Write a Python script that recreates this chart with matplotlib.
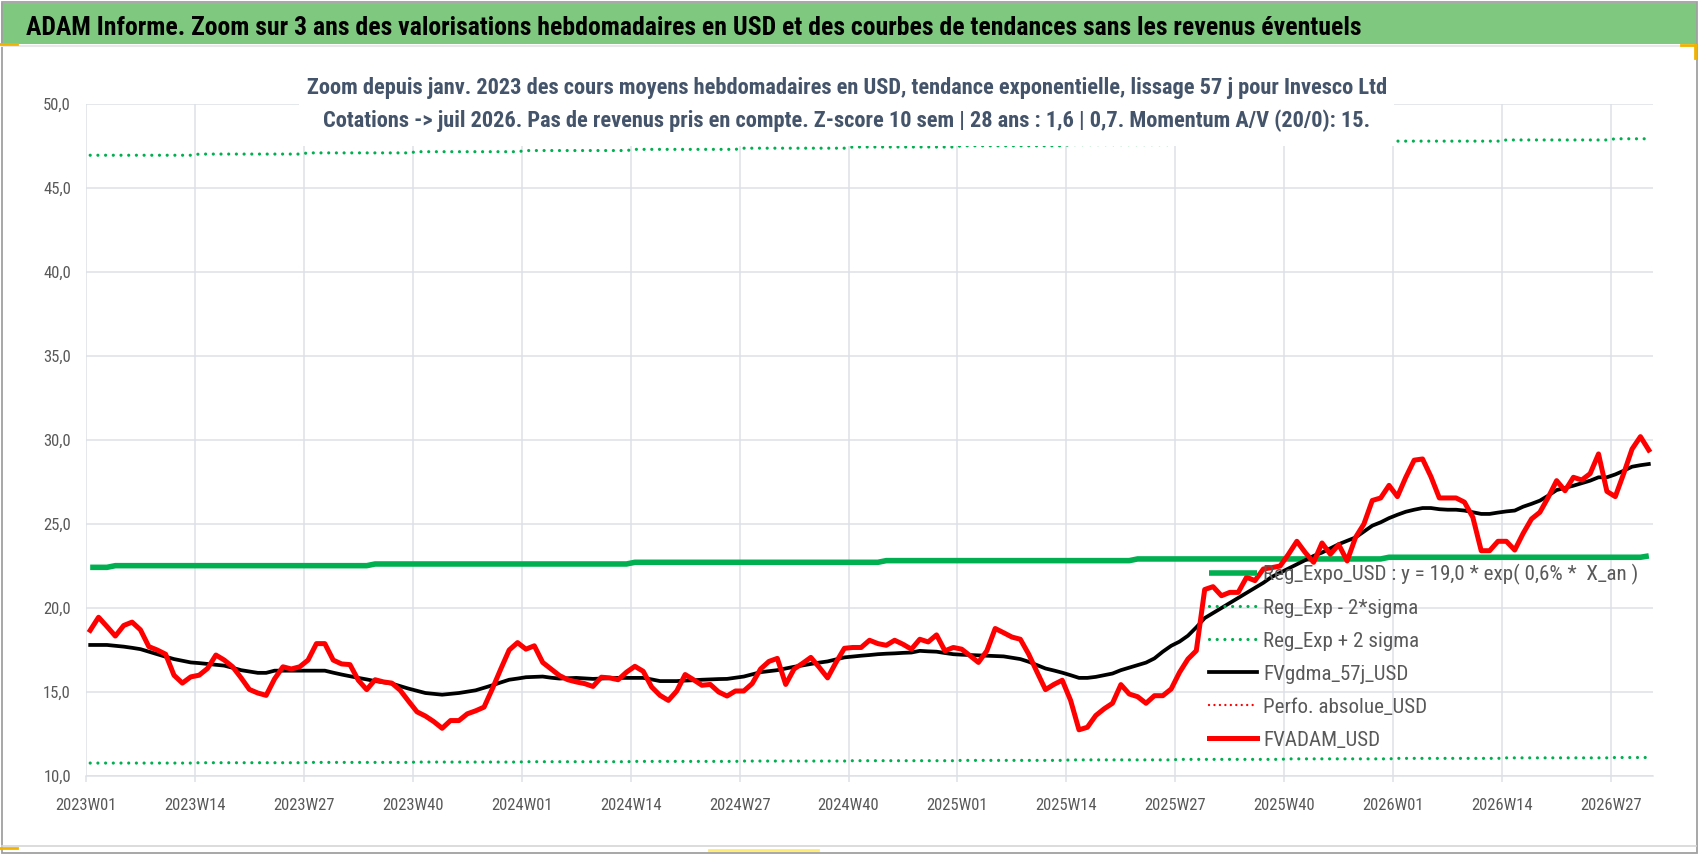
import numpy as np
import matplotlib
matplotlib.use("Agg")
import matplotlib.pyplot as plt
from matplotlib import font_manager as fm
from matplotlib.patches import Rectangle
from matplotlib.lines import Line2D

# ---------------- data ----------------
tick_labels = ["2023W01", "2023W14", "2023W27", "2023W40", "2024W01", "2024W14",
               "2024W27", "2024W40", "2025W01", "2025W14", "2025W27", "2025W40",
               "2026W01", "2026W14", "2026W27"]
weeks_per_tick = 13

fvadam_usd = [
    18.67, 19.45, 18.9, 18.33, 18.96, 19.16, 18.7, 17.7, 17.5, 17.25,
    16.0, 15.53, 15.9, 16.0, 16.4, 17.2, 16.9, 16.5, 15.85, 15.15,
    14.94, 14.8, 15.78, 16.5, 16.37, 16.5, 16.9, 17.88, 17.88, 16.9,
    16.67, 16.63, 15.7, 15.14, 15.73, 15.6, 15.53, 15.1, 14.45, 13.82,
    13.57, 13.24, 12.84, 13.3, 13.3, 13.7, 13.88, 14.1, 15.2, 16.37,
    17.5, 17.94, 17.55, 17.75, 16.76, 16.37, 15.98, 15.73, 15.6, 15.5,
    15.33, 15.88, 15.84, 15.73, 16.18, 16.53, 16.23, 15.3, 14.8, 14.5,
    15.06, 16.04, 15.73, 15.4, 15.45, 15.0, 14.76, 15.06, 15.06, 15.5,
    16.37, 16.82, 17.0, 15.45, 16.37, 16.7, 17.06, 16.47, 15.84, 16.76,
    17.6, 17.65, 17.65, 18.08, 17.88, 17.78, 18.08, 17.84, 17.55, 18.14,
    17.98, 18.4, 17.45, 17.65, 17.55, 17.16, 16.76, 17.45, 18.78, 18.53,
    18.27, 18.14, 17.25, 16.18, 15.14, 15.45, 15.7, 14.5, 12.75, 12.9,
    13.6, 14.0, 14.33, 15.44, 14.88, 14.72, 14.33, 14.78, 14.78, 15.18,
    16.17, 16.96, 17.46, 21.1, 21.27, 20.73, 20.93, 20.93, 21.83, 21.63,
    22.32, 22.4, 22.5, 23.2, 23.97, 23.3, 22.72, 23.87, 23.2, 23.77,
    22.8, 24.2, 25.0, 26.4, 26.55, 27.3, 26.63, 27.78, 28.8, 28.87,
    27.82, 26.55, 26.55, 26.55, 26.3, 25.4, 23.41, 23.41, 23.97, 23.97,
    23.45, 24.44, 25.3, 25.7, 26.59, 27.58, 26.98, 27.78, 27.62, 28.0,
    29.17, 26.94, 26.63, 28.0, 29.46, 30.2, 29.4]

fvgdma_57j_usd = [
    17.8, 17.8, 17.8, 17.75, 17.7, 17.63, 17.55, 17.4, 17.25, 17.1,
    16.96, 16.86, 16.76, 16.72, 16.67, 16.62, 16.57, 16.44, 16.3, 16.22,
    16.14, 16.14, 16.27, 16.27, 16.27, 16.27, 16.27, 16.27, 16.27, 16.15,
    16.04, 15.94, 15.84, 15.75, 15.65, 15.58, 15.5, 15.35, 15.2, 15.07,
    14.94, 14.89, 14.84, 14.89, 14.94, 15.02, 15.1, 15.25, 15.4, 15.57,
    15.73, 15.8, 15.88, 15.9, 15.92, 15.85, 15.8, 15.82, 15.84, 15.81,
    15.78, 15.8, 15.82, 15.84, 15.84, 15.84, 15.84, 15.75, 15.65, 15.65,
    15.65, 15.68, 15.7, 15.73, 15.75, 15.77, 15.78, 15.85, 15.92, 16.05,
    16.18, 16.24, 16.3, 16.4, 16.5, 16.58, 16.67, 16.75, 16.82, 16.94,
    17.06, 17.11, 17.16, 17.2, 17.25, 17.28, 17.3, 17.33, 17.35, 17.45,
    17.42, 17.4, 17.32, 17.25, 17.22, 17.2, 17.18, 17.16, 17.14, 17.12,
    17.04, 16.96, 16.8, 16.6, 16.4, 16.28, 16.15, 16.0, 15.84, 15.84,
    15.9, 16.0, 16.1, 16.3, 16.45, 16.6, 16.75, 17.0, 17.4, 17.75,
    18.0, 18.35, 18.85, 19.4, 19.7, 20.0, 20.3, 20.6, 20.9, 21.2,
    21.5, 21.85, 22.1, 22.35, 22.6, 22.85, 23.1, 23.3, 23.55, 23.8,
    24.0, 24.2, 24.55, 24.9, 25.1, 25.35, 25.55, 25.73, 25.85, 25.95,
    25.95, 25.88, 25.85, 25.85, 25.8, 25.7, 25.6, 25.6, 25.68, 25.75,
    25.8, 26.03, 26.2, 26.39, 26.69, 27.02, 27.15, 27.28, 27.43, 27.58,
    27.78, 27.78, 27.95, 28.17, 28.41, 28.5, 28.57]

# Regression curves, as plotted (stepped by the original renderer)
reg_expo_levels = [22.42, 22.52, 22.62, 22.72, 22.82, 22.92, 23.02, 23.1]
reg_expo_lengths = [3, 31, 31, 30, 30, 30, 31, 1]
reg_upper_levels = [46.95, 47.02, 47.09, 47.16, 47.23, 47.3, 47.37, 47.44,
                    47.51, 47.58, 47.65, 47.72, 47.79, 47.86, 47.93]
reg_lower_levels = [10.77, 10.79, 10.81, 10.83, 10.85, 10.87, 10.89, 10.91,
                    10.93, 10.96, 10.99, 11.02, 11.05, 11.08, 11.1]
reg_band_lengths = [13] * 14 + [5]
perfo_absolue_usd = []  # shown only in the legend

y_ticks = [10, 15, 20, 25, 30, 35, 40, 45, 50]

title = ("ADAM Informe. Zoom sur 3 ans des valorisations hebdomadaires en USD et des "
         "courbes de tendances sans les revenus éventuels")
sub1 = ("Zoom depuis janv. 2023 des cours moyens hebdomadaires en USD, tendance "
        "exponentielle, lissage 57 j pour Invesco Ltd")
sub2 = ("Cotations -> juil 2026. Pas de revenus pris en compte. Z-score 10 sem | 28 ans "
        ": 1,6 | 0,7. Momentum A/V (20/0): 15.")
labels = ["Reg_Expo_USD : y = 19,0 * exp( 0,6% *  X_an )", "Reg_Exp - 2*sigma",
          "Reg_Exp + 2 sigma", "FVgdma_57j_USD", "Perfo. absolue_USD", "FVADAM_USD"]

# ---------------- style ----------------
def pick(cands):
    for c in cands:
        try:
            fm.findfont(fm.FontProperties(family=c), fallback_to_default=False)
            return c
        except Exception:
            pass
    return "DejaVu Sans"

FONT = pick(["Liberation Sans Narrow", "Roboto Condensed", "Open Sans Condensed",
             "Liberation Sans"])
plt.rcParams["font.family"] = [FONT, "DejaVu Sans"]

GREEN = "#00B050"
RED = "#FF0000"
GRAY = "#595959"
SUBC = "#44546A"
GRID = "#DCE1E8"
BANNER = "#7FC87F"

W, H, DPI = 1698, 856, 100
fig = plt.figure(figsize=(W / DPI, H / DPI), dpi=DPI)
fig.patch.set_facecolor("white")


def fx(px):
    return px / W


def fy(py):
    return 1 - py / H


AX_L, AX_R, AX_T, AX_B = 86, 1653, 104, 776
ax = fig.add_axes([fx(AX_L), fy(AX_B), (AX_R - AX_L) / W, (AX_B - AX_T) / H])

x = np.arange(len(fvadam_usd))
reg_expo = np.repeat(reg_expo_levels, reg_expo_lengths)
reg_upper = np.repeat(reg_upper_levels, reg_band_lengths)
reg_lower = np.repeat(reg_lower_levels, reg_band_lengths)

dots = (0, (0.01, 2.4))
h1, = ax.plot(x, reg_expo, color=GREEN, lw=4.0, solid_capstyle="butt", label=labels[0])
h2, = ax.plot(x, reg_lower, color=GREEN, lw=2.3, linestyle=dots, dash_capstyle="round",
              label=labels[1])
h3, = ax.plot(x, reg_upper, color=GREEN, lw=2.3, linestyle=dots, dash_capstyle="round",
              label=labels[2])
h4, = ax.plot(x, fvgdma_57j_usd, color="black", lw=2.7, solid_joinstyle="round",
              label=labels[3])
h5, = ax.plot(np.arange(len(perfo_absolue_usd)), perfo_absolue_usd, color=RED, lw=1.7,
              linestyle=(0, (0.01, 2.3)), dash_capstyle="round", label=labels[4])
h6, = ax.plot(x, fvadam_usd, color=RED, lw=3.6, solid_joinstyle="round", label=labels[5])
handles = [h1, h2, h3, h4, h5, h6]

ax.set_xlim(-0.5, len(fvadam_usd) - 0.5)
ax.set_ylim(y_ticks[0], y_ticks[-1])
ax.set_xticks(np.arange(len(tick_labels)) * weeks_per_tick - 0.5)
ax.set_xticklabels(tick_labels)
ax.set_yticks(y_ticks)
ax.set_yticklabels([f"{v:.1f}".replace(".", ",") for v in y_ticks])
ax.grid(True, color=GRID, lw=1.1)
ax.set_axisbelow(True)
for s in ["top", "right", "left"]:
    ax.spines[s].set_visible(False)
ax.spines["bottom"].set_color(GRID)
ax.spines["bottom"].set_linewidth(1.1)
ypad, xpad = 10.8, 11.0
ax.tick_params(axis="y", length=0, pad=ypad, labelcolor=GRAY, labelsize=13)
ax.tick_params(axis="x", length=4, width=1.1, color=GRID, direction="out", pad=xpad,
               labelcolor=GRAY, labelsize=13)

# banner, frame and decorations
fig.add_artist(Rectangle((fx(1), fy(44)), (W - 2) / W, 41 / H, transform=fig.transFigure,
                         facecolor=BANNER, edgecolor="none", zorder=1))
fig.add_artist(Rectangle((fx(1.5), fy(853)), (W - 3) / W, 851.5 / H, transform=fig.transFigure,
                         facecolor="none", edgecolor="#A0A0A0", lw=1.3, zorder=1))
fig.add_artist(Line2D([fx(2), fx(W - 2)], [fy(846), fy(846)], transform=fig.transFigure,
                      color="#D6D6D6", lw=1.2, zorder=1))
fig.add_artist(Line2D([fx(2), fx(W - 2)], [fy(46), fy(46)], transform=fig.transFigure,
                      color="#E8E8E8", lw=1.5, zorder=1))
for (xa, ya, xb, yb, c) in [(0, 44, 17, 44, "#F2B300"), (1681, 45, 1695, 45, "#F2B300"),
                            (1695, 45, 1695, 58, "#F2B300"), (0, 848, 17, 848, "#F2B300"),
                            (709, 850, 818, 850, "#FFEB70")]:
    fig.add_artist(Line2D([fx(xa), fx(xb)], [fy(ya), fy(yb)], transform=fig.transFigure,
                          color=c, lw=2.0, zorder=2))
# white box behind the subtitle (hides grid lines like the original)
fig.add_artist(Rectangle((fx(299), fy(146)), (1394 - 299) / W, (146 - 60) / H,
                         transform=fig.transFigure, facecolor="white", edgecolor="none",
                         zorder=1.5))

t_title = fig.text(fx(26), fy(35), title, ha="left", va="baseline", fontsize=17,
                   fontweight="bold", color="black", zorder=3)
t_s1 = fig.text(fx(847), fy(94), sub1, ha="center", va="baseline", fontsize=15,
                fontweight="bold", color=SUBC, zorder=3)
t_s2 = fig.text(fx(847), fy(127), sub2, ha="center", va="baseline", fontsize=15,
                fontweight="bold", color=SUBC, zorder=3)

fig.canvas.draw()
r = fig.canvas.get_renderer()


def fit(t, target):
    w = t.get_window_extent(r).width
    t.set_fontsize(t.get_fontsize() * target / w)


fit(t_title, 1337)
fit(t_s1, 1082)
t_s2.set_fontsize(t_s1.get_fontsize())

# tick label size from the width of "2023W01" (about 62 px)
w0 = ax.get_xticklabels()[0].get_window_extent(r).width
tsize = 13 * 62 / w0
ax.tick_params(axis="both", labelsize=tsize)
for _ in range(2):
    fig.canvas.draw()
    bx = ax.get_xticklabels()[0].get_window_extent(r)
    by = ax.get_yticklabels()[-1].get_window_extent(r)
    cy = (bx.y0 + bx.y1) / 2
    xpad += (cy - (H - 805)) * 72 / DPI
    ypad += (by.x1 - 71) * 72 / DPI
    ax.tick_params(axis="x", pad=xpad)
    ax.tick_params(axis="y", pad=ypad)

# legend, positioned to match the original
fs, ls = 13.5, 0.6
anchor = [fx(1209), fy(560)]


def make_legend(fs, ls, anchor):
    fs_px = fs * DPI / 72
    return ax.legend(handles=handles, loc="upper left", bbox_to_anchor=anchor,
                     bbox_transform=fig.transFigure, frameon=False,
                     prop={"family": FONT, "size": fs}, handlelength=48 / fs_px,
                     handletextpad=6 / fs_px, labelspacing=ls, borderpad=0,
                     borderaxespad=0, labelcolor=GRAY)


for _ in range(4):
    leg = make_legend(fs, ls, anchor)
    fig.canvas.draw()
    txts = leg.get_texts()
    b0 = txts[0].get_window_extent(r)
    fs *= 375 / b0.width
    hl = leg.legend_handles
    hb0 = hl[0].get_window_extent(r)
    hb5 = hl[-1].get_window_extent(r)
    c0 = (hb0.y0 + hb0.y1) / 2
    c5 = (hb5.y0 + hb5.y1) / 2
    pitch = (c0 - c5) / 5
    ls += (33.1 - pitch) / (fs * DPI / 72)
    anchor = [anchor[0] + (1263 - b0.x0) / W, anchor[1] + ((H - 572.7) - c0) / H]
    leg.remove()
leg = make_legend(fs, ls, anchor)

fig.savefig("out.png", dpi=DPI)
